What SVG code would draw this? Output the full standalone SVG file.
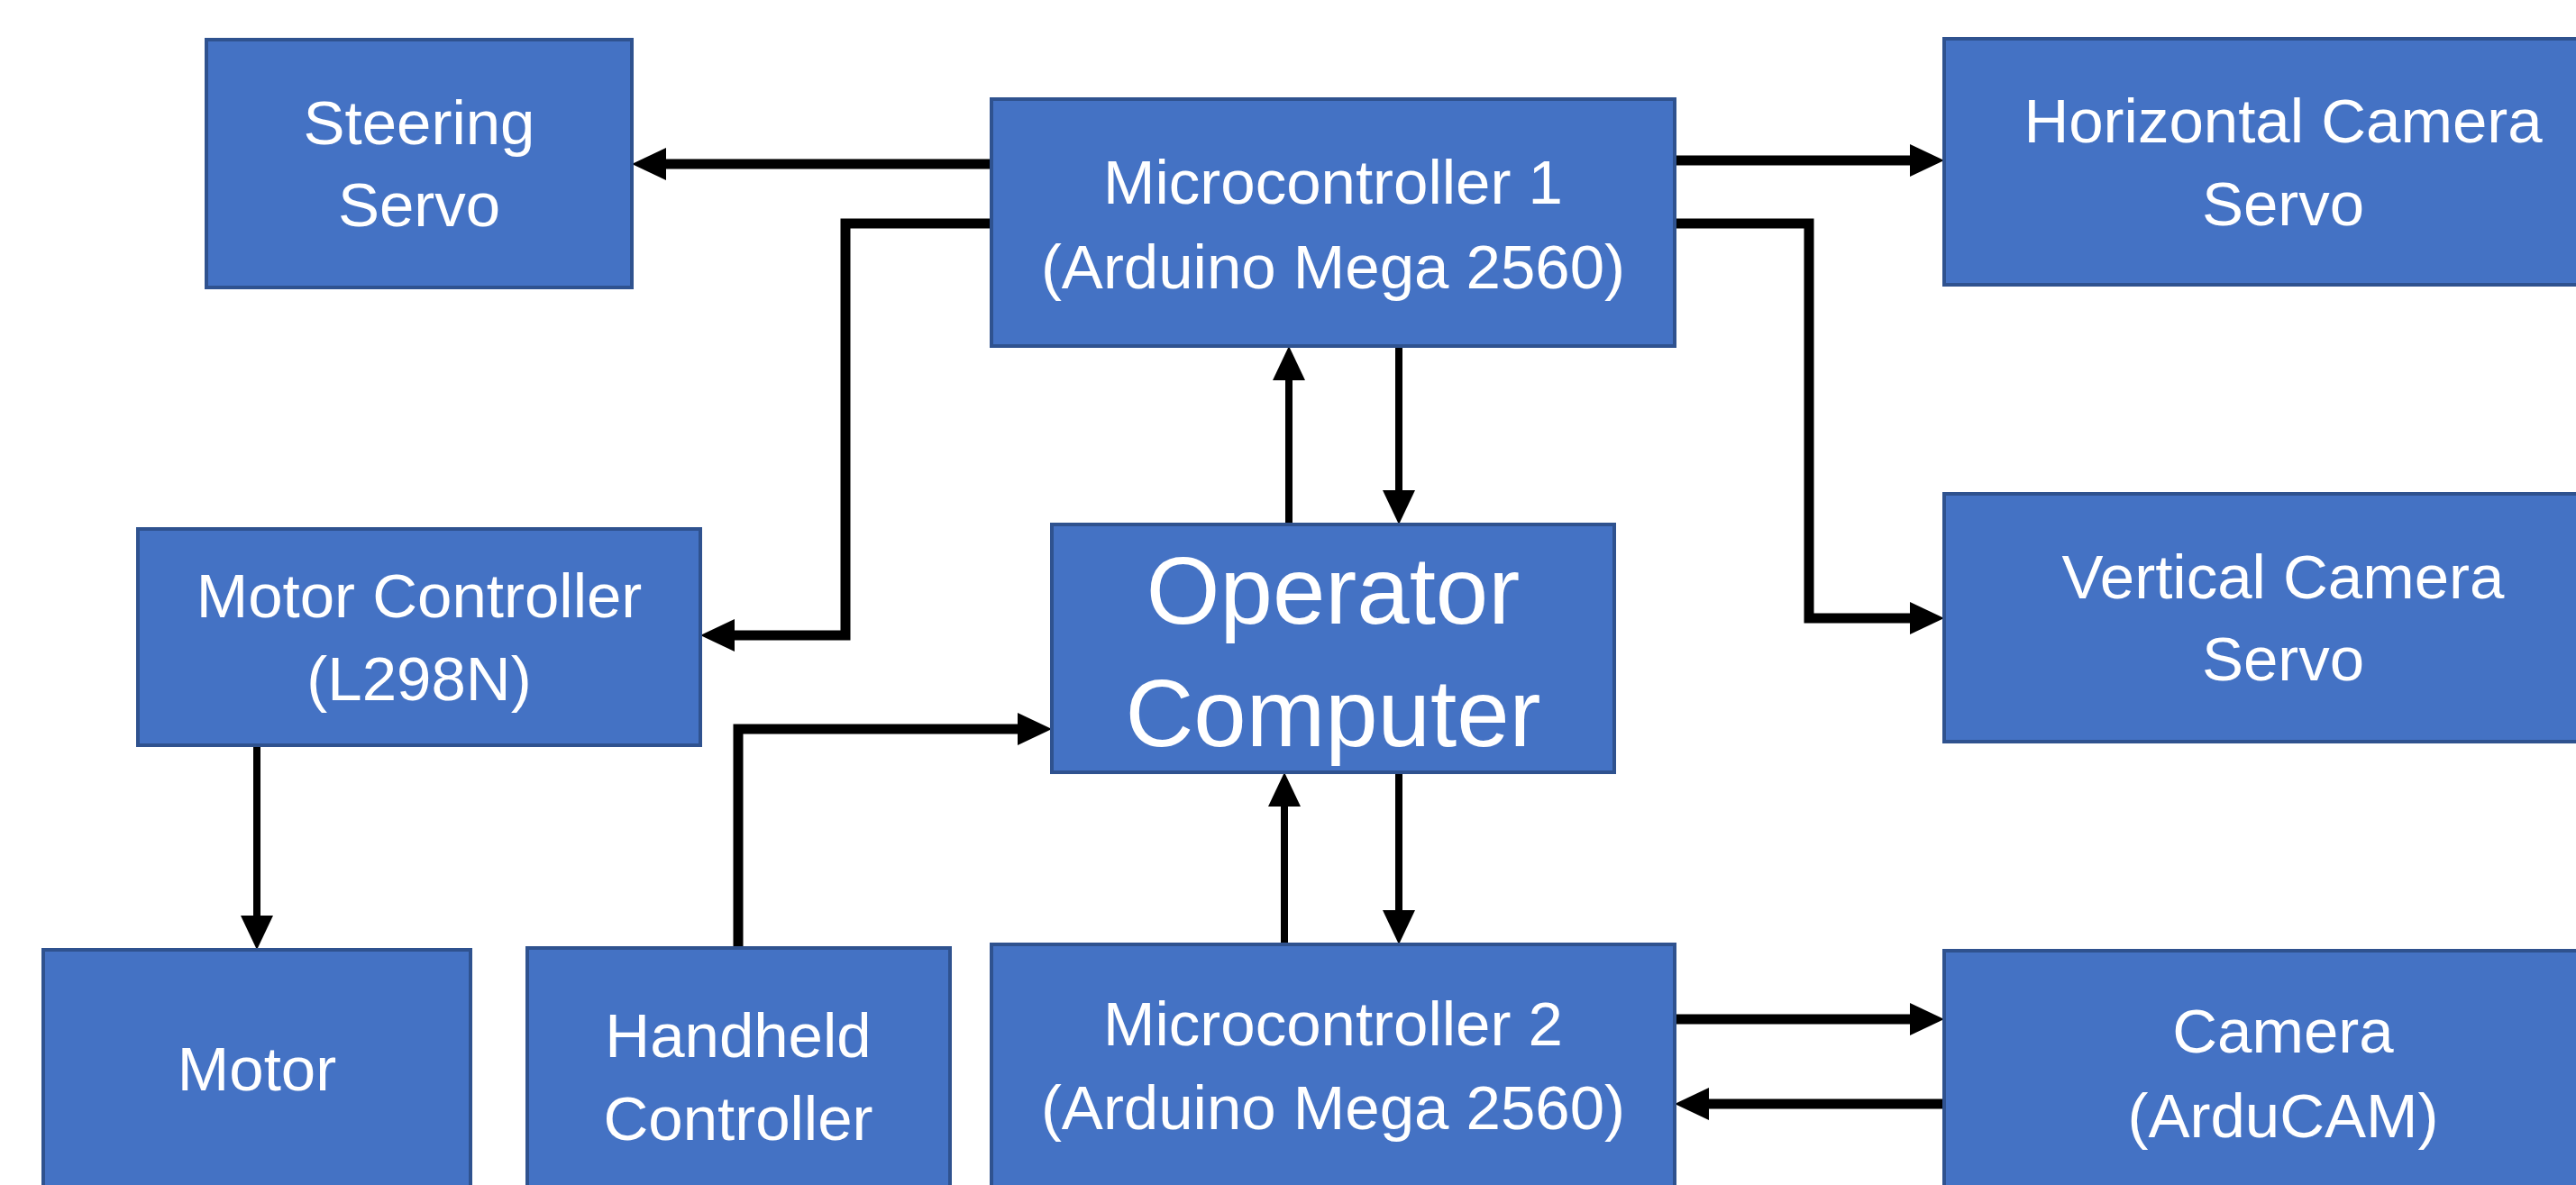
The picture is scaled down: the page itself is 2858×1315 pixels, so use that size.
<svg xmlns="http://www.w3.org/2000/svg" width="2858" height="1315" viewBox="0 0 2858 1315">
  <style>
    .box { fill: #4472C4; stroke: #2F528F; stroke-width: 4; }
    .lbl { fill: #FFFFFF; font-family: "Liberation Sans", Arial, sans-serif; font-size: 69px; text-anchor: middle; }
    .big { font-size: 105px; }
    .wire { fill: none; stroke: #000000; stroke-width: 11; stroke-linejoin: miter; }
    .thin { stroke-width: 8; }
  </style>
  <defs>
    <marker id="arrow" markerUnits="userSpaceOnUse" markerWidth="38" markerHeight="36" refX="18" refY="18" orient="auto">
      <path d="M0,0 L38,18 L0,36 Z" fill="#000000"/>
    </marker>
  </defs>
  <rect x="0" y="0" width="2858" height="1315" fill="#FFFFFF"/>

  <g id="connectors">
    <path class="wire" d="M1100,182 L721,182" marker-end="url(#arrow)"/>
    <path class="wire" d="M1100,248 L938,248 L938,705 L797,705" marker-end="url(#arrow)"/>
    <path class="wire" d="M1858,178 L2137,178" marker-end="url(#arrow)"/>
    <path class="wire" d="M1858,248 L2007,248 L2007,686 L2137,686" marker-end="url(#arrow)"/>
    <path class="wire thin" d="M1430,582 L1430,404" marker-end="url(#arrow)"/>
    <path class="wire thin" d="M1552,384 L1552,562" marker-end="url(#arrow)"/>
    <path class="wire thin" d="M285,827 L285,1034" marker-end="url(#arrow)"/>
    <path class="wire" d="M819,1052 L819,809 L1147,809" marker-end="url(#arrow)"/>
    <path class="wire thin" d="M1425,1048 L1425,877" marker-end="url(#arrow)"/>
    <path class="wire thin" d="M1552,857 L1552,1028" marker-end="url(#arrow)"/>
    <path class="wire" d="M1858,1131 L2137,1131" marker-end="url(#arrow)"/>
    <path class="wire" d="M2157,1225 L1878,1225" marker-end="url(#arrow)"/>
  </g>

  <g id="steering-servo">
    <rect class="box" x="229" y="44" width="472" height="275"/>
    <text class="lbl" x="465" y="160">Steering</text>
    <text class="lbl" x="465" y="251">Servo</text>
  </g>
  <g id="microcontroller-1">
    <rect class="box" x="1100" y="110" width="758" height="274"/>
    <text class="lbl" x="1479" y="226">Microcontroller 1</text>
    <text class="lbl" x="1479" y="320">(Arduino Mega 2560)</text>
  </g>
  <g id="horizontal-camera-servo">
    <rect class="box" x="2157" y="43" width="760" height="273"/>
    <text class="lbl" x="2533" y="158">Horizontal Camera</text>
    <text class="lbl" x="2533" y="250">Servo</text>
  </g>
  <g id="motor-controller">
    <rect class="box" x="153" y="587" width="624" height="240"/>
    <text class="lbl" x="465" y="685">Motor Controller</text>
    <text class="lbl" x="465" y="777">(L298N)</text>
  </g>
  <g id="operator-computer">
    <rect class="box" x="1167" y="582" width="624" height="275"/>
    <text class="lbl big" x="1479" y="692">Operator</text>
    <text class="lbl big" x="1479" y="828">Computer</text>
  </g>
  <g id="vertical-camera-servo">
    <rect class="box" x="2157" y="548" width="760" height="275"/>
    <text class="lbl" x="2533" y="664">Vertical Camera</text>
    <text class="lbl" x="2533" y="755">Servo</text>
  </g>
  <g id="motor">
    <rect class="box" x="48" y="1054" width="474" height="270"/>
    <text class="lbl" x="285" y="1210">Motor</text>
  </g>
  <g id="handheld-controller">
    <rect class="box" x="585" y="1052" width="469" height="270"/>
    <text class="lbl" x="819" y="1173">Handheld</text>
    <text class="lbl" x="819" y="1265">Controller</text>
  </g>
  <g id="microcontroller-2">
    <rect class="box" x="1100" y="1048" width="758" height="275"/>
    <text class="lbl" x="1479" y="1160">Microcontroller 2</text>
    <text class="lbl" x="1479" y="1253">(Arduino Mega 2560)</text>
  </g>
  <g id="camera">
    <rect class="box" x="2157" y="1055" width="760" height="270"/>
    <text class="lbl" x="2533" y="1168">Camera</text>
    <text class="lbl" x="2533" y="1262">(ArduCAM)</text>
  </g>
</svg>
